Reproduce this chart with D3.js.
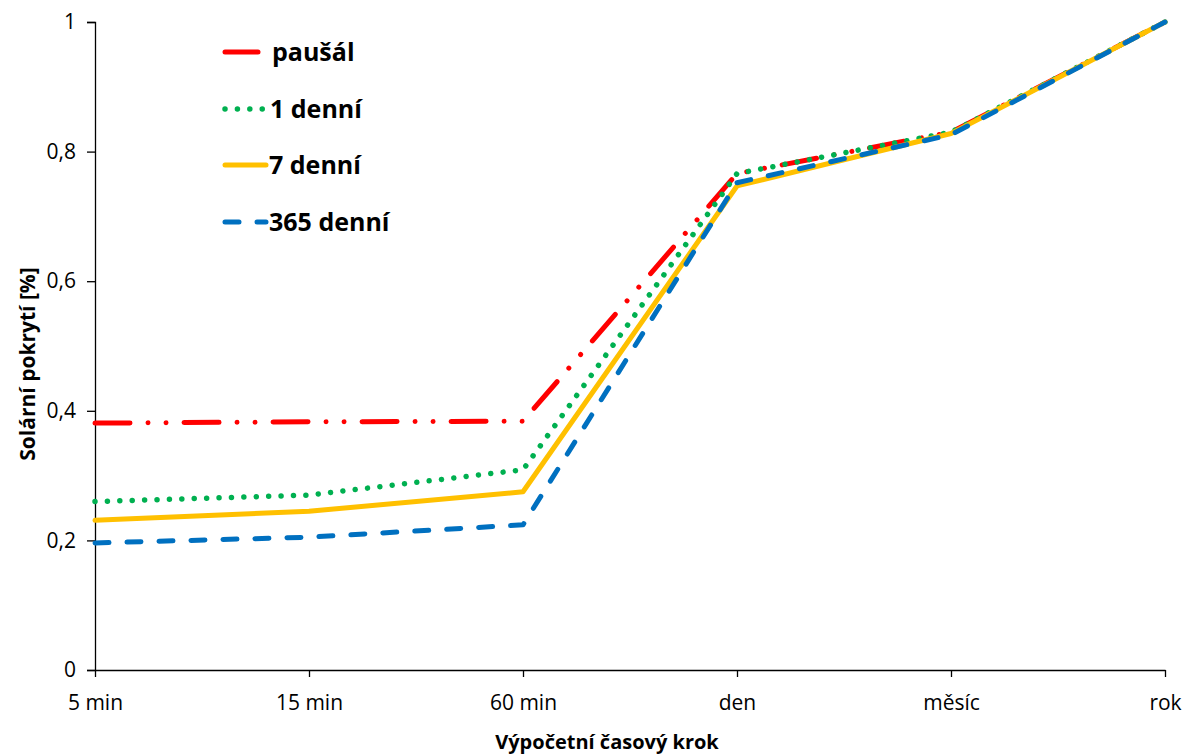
<!DOCTYPE html>
<html>
<head>
<meta charset="utf-8">
<script src="https://cdn.jsdelivr.net/npm/d3@7"></script>
<style>
  html, body { margin: 0; padding: 0; background: #fff; }
  svg { display: block; }
</style>
</head>
<body>
<svg id="chart" width="1184" height="754"></svg>
<script>
// Calculation time step categories
const categories = ["5 min", "15 min", "60 min", "den", "měsíc", "rok"];

// Solar coverage for each variant
const pausal   = [0.381, 0.383, 0.384, 0.766, 0.830, 1.0];
const denni1   = [0.260, 0.270, 0.309, 0.766, 0.830, 1.0];
const denni7   = [0.231, 0.245, 0.275, 0.747, 0.828, 1.0];
const denni365 = [0.196, 0.205, 0.224, 0.752, 0.826, 1.0];

const seriesNames = ["paušál", "1 denní", "7 denní", "365 denní"];
const yTicks = [0, 0.2, 0.4, 0.6, 0.8, 1];

const yTitle = "Solární pokrytí [%]";
const xTitle = "Výpočetní časový krok";

const styles = [
  { color: "#FF0000", dash: "35 18 0.01 18 0.01 18", width: 5 },
  { color: "#00B050", dash: "0.01 12.4", width: 5.5 },
  { color: "#FFC000", dash: null, width: 5 },
  { color: "#0070C0", dash: "14 18", width: 5 }
];

const series = [pausal, denni1, denni7, denni365].map((v, i) => ({
  name: seriesNames[i], values: v, style: styles[i]
}));

const svg = d3.select("#chart");
const margin = { left: 95, right: 19, top: 22, bottom: 84 };
const W = 1184, H = 754;

const x = d3.scalePoint().domain(categories).range([margin.left, W - margin.right]).padding(0);
const y = d3.scaleLinear().domain([0, 1]).range([H - margin.bottom, margin.top]);

const font = "'Open Sans', sans-serif";

// Y axis
const yAxis = svg.append("g")
  .attr("transform", `translate(${margin.left},0)`)
  .call(d3.axisLeft(y).tickValues(yTicks).tickSize(8).tickPadding(11)
    .tickFormat(d => d3.format(".1~f")(d).replace(".", ",")));
yAxis.select(".domain").attr("stroke", "#000").attr("stroke-width", 1.3);
yAxis.selectAll(".tick line").attr("stroke", "#000").attr("stroke-width", 1.3);
yAxis.selectAll(".tick text").attr("font-family", font).attr("font-size", 21).attr("fill", "#000");

// X axis
const xAxis = svg.append("g")
  .attr("transform", `translate(0,${y(0)})`)
  .call(d3.axisBottom(x).tickSize(7).tickSizeOuter(0).tickPadding(18));
xAxis.select(".domain").attr("stroke", "#000").attr("stroke-width", 1.3);
xAxis.selectAll(".tick line").attr("stroke", "#000").attr("stroke-width", 1.3);
xAxis.selectAll(".tick text").attr("font-family", font).attr("font-size", 21).attr("fill", "#000");

// Axis titles
svg.append("text")
  .attr("transform", `translate(35,${(margin.top + y(0)) / 2 + 18}) rotate(-90)`)
  .attr("text-anchor", "middle")
  .attr("font-family", font).attr("font-weight", "bold").attr("font-size", 21)
  .text(yTitle);

svg.append("text")
  .attr("x", 607)
  .attr("y", 749)
  .attr("text-anchor", "middle")
  .attr("font-family", font).attr("font-weight", "bold").attr("font-size", 20)
  .text(xTitle);

// Lines
const line = d3.line().x((d, i) => x(categories[i])).y(d => y(d));

svg.append("g").selectAll("path")
  .data(series)
  .join("path")
  .attr("d", d => line(d.values))
  .attr("fill", "none")
  .attr("stroke", d => d.style.color)
  .attr("stroke-width", d => d.style.width)
  .attr("stroke-linecap", "round")
  .attr("stroke-linejoin", "round")
  .attr("stroke-dasharray", d => d.style.dash);

// Legend
const legendY = [52, 109, 165, 222];
const legendX2 = [258, 264, 266, 266];
const legendTextX = [272, 270, 269, 269];
const legend = svg.append("g");
series.forEach((s, i) => {
  const g = legend.append("g").attr("transform", `translate(0,${legendY[i]})`);
  g.append("line")
    .attr("x1", 225).attr("x2", legendX2[i])
    .attr("y1", 0).attr("y2", 0)
    .attr("stroke", s.style.color)
    .attr("stroke-width", s.style.width)
    .attr("stroke-linecap", "round")
    .attr("stroke-dasharray", s.style.dash);
  g.append("text")
    .attr("x", legendTextX[i])
    .attr("y", 9)
    .attr("font-family", font).attr("font-weight", "bold").attr("font-size", 25)
    .attr("fill", "#000")
    .text(s.name);
});
</script>
</body>
</html>
